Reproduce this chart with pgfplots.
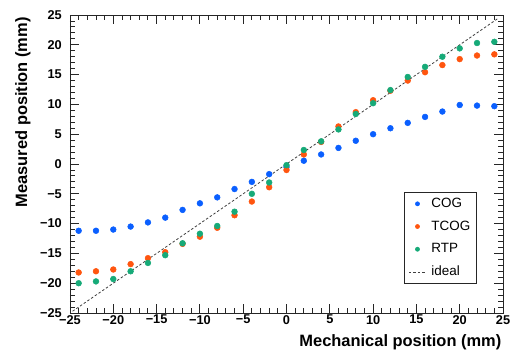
\documentclass[border=0pt]{standalone}
\usepackage{fontspec}
\setmainfont{Liberation Sans}
\usepackage{pgfplots}
\pgfplotsset{compat=1.18}
\definecolor{cogblue}{RGB}{10,95,255}
\definecolor{tcogorange}{RGB}{255,85,15}
\definecolor{rtpgreen}{RGB}{22,170,120}
\begin{document}
\begin{tikzpicture}
\begin{axis}[
  at={(0,0)}, anchor=south west,
  scale only axis, width=433bp, height=298bp,
  xmin=-25, xmax=25, ymin=-25, ymax=25,
  xtick={-25,-20,-15,-10,-5,0,5,10,15,20,25},
  ytick={-25,-20,-15,-10,-5,0,5,10,15,20,25},
  xticklabels={−25,−20,−15,−10,−5,0,5,10,15,20,25},
  yticklabels={−25,−20,−15,−10,−5,0,5,10,15,20,25},
  minor x tick num=4, minor y tick num=4,
  tick pos=both, ticklabel pos=left, tick align=inside,
  major tick length=9bp, minor tick length=5bp,
  axis line style={line width=0.9bp, black!85},
  tick style={line width=0.9bp, black!85},
  ticklabel style={font=\bfseries\fontsize{12.8}{13}\selectfont, inner sep=0pt},
  xticklabel style={anchor=north, yshift=-2bp},
  yticklabel style={anchor=east, xshift=-8bp},
  xlabel={Mechanical position (mm)},
  ylabel={Measured position (mm)},
  label style={font=\bfseries\fontsize{16.5}{17}\selectfont, inner sep=0pt},
  xlabel style={at={(axis description cs:1,0)}, anchor=north east, yshift=-21bp, xshift=-1.5bp},
  ylabel style={at={(axis description cs:-0.127,0.993)}, anchor=north east, rotate=0},
  legend style={at={(0.939,0.0997)}, anchor=south east, draw=black!85, line width=0.7bp, fill=white,
    font=\fontsize{13.5}{14}\selectfont, inner xsep=4bp, inner ysep=2.5bp,
    nodes={inner sep=2bp, text height=10bp, text depth=3bp, line width=0.8bp},
    row sep=5.7bp, column sep=3bp},
  legend cell align=left,
  legend image post style={mark size=2.1bp},
]
\addplot[only marks, color=cogblue, mark=*, mark size=2.9bp, mark options={draw=cogblue, fill=cogblue, line width=0.5bp}] coordinates {
(-24,-11.2) (-22,-11.2) (-20,-11.0) (-18,-10.5) (-16,-9.8) (-14,-9.0) (-12,-7.7) (-10,-6.6) (-8,-5.6) (-6,-4.2) (-4,-3.0) (-2,-1.7) (0,-0.5) (2,0.55) (4,1.6) (6,2.7) (8,3.9) (10,5.0) (12,6.0) (14,6.9) (16,7.9) (18,8.8) (20,9.9) (22,9.8) (24,9.7)
};
\addlegendentry{COG}
\addplot[only marks, color=tcogorange, mark=*, mark size=2.9bp, mark options={draw=tcogorange, fill=tcogorange, line width=0.5bp}] coordinates {
(-24,-18.2) (-22,-18.0) (-20,-17.7) (-18,-16.8) (-16,-15.8) (-14,-14.8) (-12,-13.4) (-10,-12.2) (-8,-10.7) (-6,-8.6) (-4,-6.3) (-2,-3.9) (0,-1.0) (2,1.6) (4,3.7) (6,6.3) (8,8.7) (10,10.7) (12,12.3) (14,14.0) (16,15.4) (18,16.6) (20,17.6) (22,18.2) (24,18.4)
};
\addlegendentry{TCOG}
\addplot[only marks, color=rtpgreen, mark=*, mark size=2.9bp, mark options={draw=rtpgreen, fill=rtpgreen, line width=0.5bp}] coordinates {
(-24,-20.0) (-22,-19.7) (-20,-19.3) (-18,-18.0) (-16,-16.6) (-14,-15.3) (-12,-13.3) (-10,-11.7) (-8,-10.4) (-6,-8.0) (-4,-5.0) (-2,-3.1) (0,-0.2) (2,2.35) (4,3.8) (6,5.8) (8,8.4) (10,10.2) (12,12.4) (14,14.6) (16,16.3) (18,18.0) (20,19.4) (22,20.3) (24,20.5)
};
\addlegendentry{RTP}
\addplot[black!75, line width=0.8bp, dash pattern=on 2.5bp off 2bp] coordinates {(-24.7,-24.7) (24.5,24.5)};
\addlegendentry{ideal}
\end{axis}
\pgfresetboundingbox
\path[use as bounding box] (-70bp,-37bp) rectangle (442bp,313bp);
\end{tikzpicture}
\end{document}
